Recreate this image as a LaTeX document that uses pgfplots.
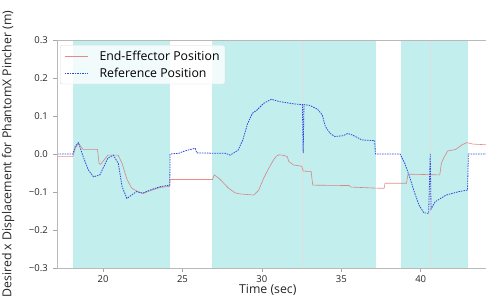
\documentclass[border=0pt]{standalone}
\usepackage{pgfplots}
\pgfplotsset{compat=1.18}
\usepackage{fontspec}
\setmainfont{Open Sans}
\definecolor{shade}{RGB}{194,238,238}
\definecolor{refblue}{RGB}{45,75,220}
\definecolor{eered}{RGB}{225,90,90}
\begin{document}
\begin{tikzpicture}
\useasboundingbox (0,0) rectangle (486pt,302pt);
\clip (0,0) rectangle (486pt,302pt);
\begin{axis}[
  at={(57pt,34pt)}, anchor=south west, scale only axis,
  width=432pt, height=228pt,
  xmin=17.1, xmax=44.3, ymin=-0.3, ymax=0.3,
  xtick={20,25,30,35,40},
  ytick={-0.3,-0.2,-0.1,0,0.1,0.2,0.3},
  yticklabels={−0.3,−0.2,−0.1,0.0,0.1,0.2,0.3},
  xtick pos=lower, ytick pos=left,
  tick align=outside, major tick length=3.5pt,
  tick style={gray!70, line width=0.6pt},
  axis line style={gray!55, line width=0.7pt},
  axis on top,
  ticklabel style={font=\fontsize{9.5}{11}\selectfont, text=black!85, inner sep=1pt},
  xticklabel style={yshift=-3pt},
  yticklabel style={xshift=-4.5pt},
  /pgf/number format/assume math mode=true,
  xlabel={Time (sec)},
  ylabel={Desired x Displacement for PhantomX Pincher (m)},
  label style={font=\fontsize{12.3}{14}\selectfont, text=black!85, inner sep=0pt},
  xlabel style={at={(axis description cs:0.488,-0.098)}, anchor=center},
  ylabel style={at={(axis description cs:-0.113,0.5)}, anchor=center},
  legend image code/.code={\draw[#1] (0pt,0pt) -- (23pt,0pt);},
  legend style={at={(axis description cs:0.007,0.978)}, anchor=north west,
    draw=gray!30, fill=white, fill opacity=0.8, text opacity=1,
    rounded corners=2pt, font=\fontsize{12.3}{14}\selectfont,
    inner xsep=4pt, inner ysep=4pt, row sep=3pt,
    nodes={inner sep=1.5pt},
    /tikz/every odd column/.append style={column sep=10pt}},
  legend cell align=left,
]
% shaded intervals
\addplot[fill=shade, draw=none, forget plot] coordinates {(18.11,-0.3) (18.11,0.3) (24.24,0.3) (24.24,-0.3)} -- cycle;
\addplot[fill=shade, draw=none, forget plot] coordinates {(26.86,-0.3) (26.86,0.3) (37.17,0.3) (37.17,-0.3)} -- cycle;
\addplot[fill=shade, draw=none, forget plot] coordinates {(38.74,-0.3) (38.74,0.3) (42.99,0.3) (42.99,-0.3)} -- cycle;
% faint event lines
\addplot[gray!25, line width=0.5pt, forget plot] coordinates {(32.6,-0.3) (32.6,0.3)};
\addplot[gray!25, line width=0.5pt, forget plot] coordinates {(40.6,-0.3) (40.6,0.3)};
% End-effector position
\addplot[eered, line width=0.6pt, draw opacity=0.7] coordinates {
(17.1,-0.007) (18.1,-0.007) (18.25,0.015) (18.45,0.028) (18.75,0.012) (19.0,0.012) (19.65,0.012)
(19.75,-0.025) (19.85,-0.027) (20.3,-0.003) (20.95,-0.003) (21.2,-0.025) (21.5,-0.066) (21.8,-0.09)
(22.2,-0.099) (22.5,-0.104) (22.95,-0.097) (23.6,-0.088) (24.2,-0.085) (24.22,-0.067) (26.9,-0.067)
(27.0,-0.055) (27.3,-0.064) (27.6,-0.077) (27.9,-0.09) (28.3,-0.102) (28.6,-0.105) (29.5,-0.108)
(29.8,-0.095) (30.1,-0.065) (30.4,-0.04) (30.7,-0.018) (30.9,-0.006) (31.1,-0.002) (31.4,-0.004)
(31.6,-0.007) (31.7,-0.02) (32.0,-0.029) (32.5,-0.032) (32.6,-0.045) (33.1,-0.046) (33.2,-0.082)
(35.5,-0.083) (35.6,-0.087) (37.3,-0.09) (37.7,-0.09) (37.75,-0.077) (39.1,-0.077) (39.2,-0.053)
(41.2,-0.055) (41.3,-0.025) (41.45,-0.01) (41.7,0.008) (42.2,0.012) (42.6,0.024) (42.9,0.03)
(43.3,0.026) (44.3,0.024)
};
% Reference position
\addplot[refblue, line width=0.8pt, dash pattern=on 1.5pt off 1pt] coordinates {
(17.1,0.0) (18.1,0.0) (18.25,0.02) (18.45,0.03) (18.75,-0.007) (19.07,-0.042) (19.4,-0.06)
(19.8,-0.055) (20.3,-0.011) (20.65,-0.003) (20.96,-0.025) (21.2,-0.086) (21.5,-0.117) (21.8,-0.108)
(22.1,-0.099) (22.5,-0.103) (22.95,-0.095) (23.6,-0.086) (24.2,-0.082) (24.22,0.0) (24.8,0.002)
(25.0,0.006) (25.4,0.011) (25.8,0.015) (25.9,0.003) (27.0,0.002) (27.7,0.002) (28.0,-0.003)
(28.5,0.01) (28.8,0.037) (29.1,0.08) (29.4,0.107) (29.7,0.116) (30.1,0.133) (30.6,0.144)
(31.1,0.138) (32.0,0.132) (32.55,0.13) (32.6,0.002) (32.65,0.13) (33.0,0.128) (33.5,0.118)
(33.8,0.103) (34.0,0.072) (34.3,0.054) (34.6,0.046) (35.1,0.048) (35.4,0.054) (35.7,0.05)
(36.3,0.037) (37.1,0.035) (37.15,0.0) (38.7,0.0) (39.0,-0.025) (39.3,-0.06) (39.6,-0.1)
(39.9,-0.135) (40.2,-0.155) (40.5,-0.156) (40.6,0.0) (40.65,-0.145) (40.9,-0.126) (41.6,-0.108)
(42.4,-0.099) (42.95,-0.095) (43.0,0.0) (44.3,0.0)
};
\legend{End-Effector Position, Reference Position}
\end{axis}
\end{tikzpicture}
\end{document}
